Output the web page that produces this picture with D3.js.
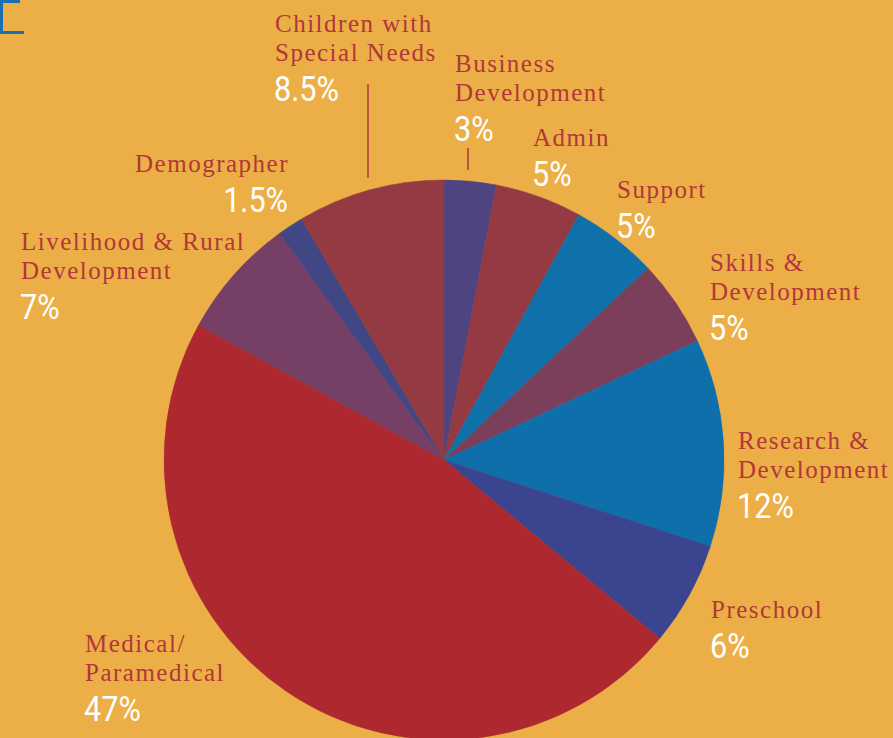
<!DOCTYPE html>
<html>
<head>
<meta charset="utf-8">
<script src="https://cdn.jsdelivr.net/npm/d3@7"></script>
<style>
  body { margin: 0; background: #ecaf47; }
  svg { display: block; }
  .lbl { font-family: "Liberation Serif", "DejaVu Serif", serif; font-size: 25px; letter-spacing: 1.5px; fill: #b2363a; }
  .pct { font-family: Roboto, "DejaVu Sans", sans-serif; font-weight: 400; font-size: 36px; fill: #ffffff; }
</style>
</head>
<body>
<svg id="chart" width="893" height="738"></svg>
<script>
// slices, clockwise from 12 o'clock
const categories = ["Business Development", "Admin", "Support", "Skills & Development",
  "Research & Development", "Preschool", "Medical/Paramedical",
  "Livelihood & Rural Development", "Demographer", "Children with Special Needs"];
const shares = [3, 5, 5, 5, 12, 6, 47, 7, 1.5, 8.5];
const sliceColors = ["#4e4580", "#943a42", "#1070aa", "#7b3f5b", "#0f6fab",
  "#3b458f", "#ae282f", "#763f65", "#414684", "#943a42"];
const pctLabels = ["3%", "5%", "5%", "5%", "12%", "6%", "47%", "7%", "1.5%", "8.5%"];
// label text lines as printed
const labelLines = [["Business", "Development"], ["Admin"], ["Support"], ["Skills &", "Development"],
  ["Research &", "Development"], ["Preschool"], ["Medical/", "Paramedical"],
  ["Livelihood & Rural", "Development"], ["Demographer"], ["Children with", "Special Needs"]];

const svg = d3.select("#chart");
const cx = 444, cy = 460, radius = 280;

// corner bracket
svg.append("path")
  .attr("d", "M20,1.5 H1.5 V32.5 H24")
  .attr("fill", "none")
  .attr("stroke", "#1a6fb0")
  .attr("stroke-width", 3);

const pie = d3.pie().sort(null).value(d => d)(shares);
const arc = d3.arc().innerRadius(0).outerRadius(radius);

svg.append("g")
  .attr("transform", `translate(${cx},${cy})`)
  .selectAll("path")
  .data(pie)
  .join("path")
    .attr("d", arc)
    .attr("fill", (d, i) => sliceColors[i])
    .attr("stroke", (d, i) => sliceColors[i])
    .attr("stroke-width", 0.5);

// label placement (x, first baseline, anchor)
const labelPos = [
  [455, 72, "start"], [533, 146, "start"], [617, 198, "start"], [710, 271, "start"],
  [738, 449, "start"], [711, 618, "start"], [85, 652, "start"],
  [21, 250, "start"], [289, 172, "end"], [275, 32, "start"]
];
const lineH = 29, pctGap = 40, pctSqueeze = 0.85;

const labels = svg.append("g");
labelLines.forEach((lines, i) => {
  const [x, y, anchor] = labelPos[i];
  lines.forEach((t, j) => {
    labels.append("text").attr("class", "lbl")
      .attr("x", x).attr("y", y + j * lineH)
      .attr("text-anchor", anchor).text(t);
  });
  const py = y + (lines.length - 1) * lineH + pctGap;
  labels.append("text").attr("class", "pct")
    .attr("transform", `translate(${x - 1},${py}) scale(${pctSqueeze},1)`)
    .attr("text-anchor", anchor).text(pctLabels[i]);
});

// leader lines
const leaders = [[368, 84, 368, 178], [468, 148, 468, 170]];
svg.append("g").selectAll("line")
  .data(leaders)
  .join("line")
    .attr("x1", d => d[0]).attr("y1", d => d[1])
    .attr("x2", d => d[2]).attr("y2", d => d[3])
    .attr("stroke", "#b2363a").attr("stroke-width", 1.5);
</script>
</body>
</html>
